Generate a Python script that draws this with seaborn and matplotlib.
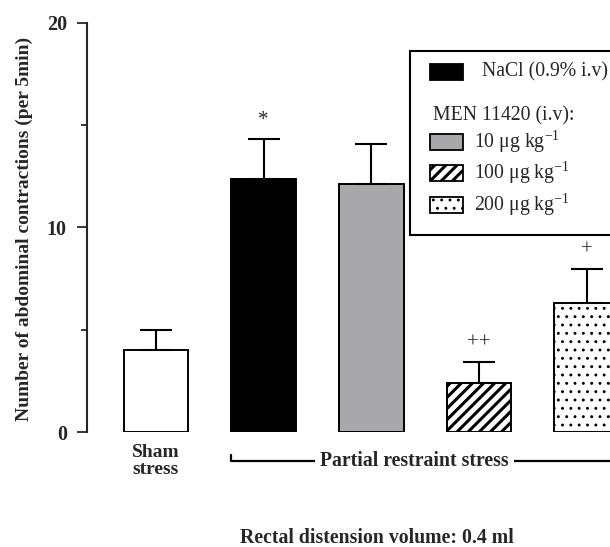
import matplotlib
matplotlib.use("Agg")
import matplotlib.pyplot as plt
import pandas as pd
import seaborn as sns
from matplotlib.patches import Rectangle
from matplotlib.lines import Line2D

# data (mean + SEM, contractions per 5 min)
groups = ["Sham", "NaCl", "MEN 10", "MEN 100", "MEN 200"]
means = [4.0, 12.35, 12.1, 2.4, 6.3]
sems = [1.0, 1.95, 1.95, 1.0, 1.65]
marks = ["", "*", "", "++", "+"]
colors = ["white", "black", "#a8a8ab", "white", "white"]
hatches = [None, None, None, "///", ".."]
hatch_lw = [None, None, None, 2.2, 0.9]

legend_labels = ["NaCl (0.9% i.v)", "MEN 11420 (i.v):",
                 r"10 $\mathregular{\mu}$g kg$^{\mathregular{-1}}$",
                 r"100 $\mathregular{\mu}$g kg$^{\mathregular{-1}}$",
                 r"200 $\mathregular{\mu}$g kg$^{\mathregular{-1}}$"]

sns.set_style("ticks")
plt.rcParams["font.family"] = ["Liberation Serif", "DejaVu Serif"]
plt.rcParams["mathtext.fontset"] = "custom"
plt.rcParams["mathtext.rm"] = "Liberation Serif"
plt.rcParams["mathtext.it"] = "Liberation Serif:italic"


def set_hatch(patch, h, lw):
    # hatch line width per patch (rcParams is read when drawing)
    patch.set_hatch(h)
    if hasattr(patch, "_hatch_linewidth"):
        patch._hatch_linewidth = lw
    orig = patch.draw

    def draw(renderer, _orig=orig, _lw=lw):
        with plt.rc_context({"hatch.linewidth": _lw}):
            _orig(renderer)
    patch.draw = draw


df = pd.DataFrame({"group": groups, "mean": means, "sem": sems})

fig = plt.figure(figsize=(6.10, 5.47), dpi=100)
ax = fig.add_axes([0.1426, 0.2102, 0.9075, 0.7486])

sns.barplot(data=df, x="group", y="mean", hue="group", palette=colors,
            saturation=1, width=0.6, edgecolor="black", linewidth=1.4,
            errorbar=None, legend=False, ax=ax)

for bar, h, lw in zip(ax.patches, hatches, hatch_lw):
    if h:
        set_hatch(bar, h, lw)

pos = list(range(len(groups)))
ax.errorbar(pos, means, yerr=[[0] * len(sems), sems], fmt="none",
            ecolor="black", elinewidth=1.5, capsize=11.5, capthick=1.5, zorder=3)

for x, m, s, t in zip(pos, means, sems, marks):
    if t:
        off = 0.9 if t == "*" else 0.95
        ax.text(x, m + s + off, t, ha="center", va="center", fontsize=15)

ax.set_ylim(0, 20)
ax.set_xlim(-0.64, 4.5)
ax.set_yticks([0, 10, 20])
ax.set_yticklabels(["0", "10", "20"], fontsize=14.5, fontweight="bold")
ax.set_yticks([5, 15], minor=True)
ax.tick_params(axis="y", which="major", length=7.5, width=1.3, pad=7)
ax.tick_params(axis="y", which="minor", length=4.5, width=1.3)
ax.set_xticks([])
ax.set_xlabel("")
ax.set_ylabel("Number of abdominal contractions (per 5min)",
              fontsize=14, fontweight="bold")
ax.yaxis.set_label_coords(-0.097, 0.496)
for side in ["top", "right", "bottom"]:
    ax.spines[side].set_visible(False)
ax.spines["left"].set_linewidth(1.5)

# group labels under the bars
trans = ax.get_xaxis_transform()
ax.text(0, -0.0707, "Sham\nstress", transform=trans, ha="center", va="center",
        fontsize=14, fontweight="bold", linespacing=0.95)
ax.add_line(Line2D([0.7, 0.7, 4.3, 4.3], [-0.056, -0.0707, -0.0707, -0.056],
                   transform=trans, color="black", lw=1.6, clip_on=False))
ax.text(2.4, -0.0707, "Partial restraint stress", transform=trans,
        ha="center", va="center", fontsize=14.2, fontweight="bold",
        bbox=dict(fc="white", ec="none", pad=4))

fig.text(0.618, 0.0165, "Rectal distension volume: 0.4 ml", ha="center",
         va="center", fontsize=14.2, fontweight="bold")

# legend box, drawn by hand (figure pixels -> fraction)
W, H = 610, 547
def fx(px):
    return px / W
def fy(py):
    return 1 - py / H

fig.add_artist(Rectangle((fx(410), fy(235)), fx(240), fy(51) - fy(235),
                         transform=fig.transFigure, fc="white", ec="black",
                         lw=1.5, zorder=5))
rows = [(72, 1, 482), (116, None, 433), (142, 2, 474), (173, 3, 474), (205, 4, 474)]
for (py, idx, tx), lab in zip(rows, legend_labels):
    if idx is not None:
        p = Rectangle((fx(430), fy(py + 8)), fx(33), fy(py - 8) - fy(py + 8),
                      transform=fig.transFigure, fc=colors[idx],
                      ec="black", lw=1.3, zorder=6)
        if hatches[idx]:
            set_hatch(p, hatches[idx], hatch_lw[idx])
        fig.add_artist(p)
    fig.text(fx(tx), fy(py), lab, ha="left", va="center", fontsize=14.2, zorder=7)

fig.savefig("out.png", dpi=100)
